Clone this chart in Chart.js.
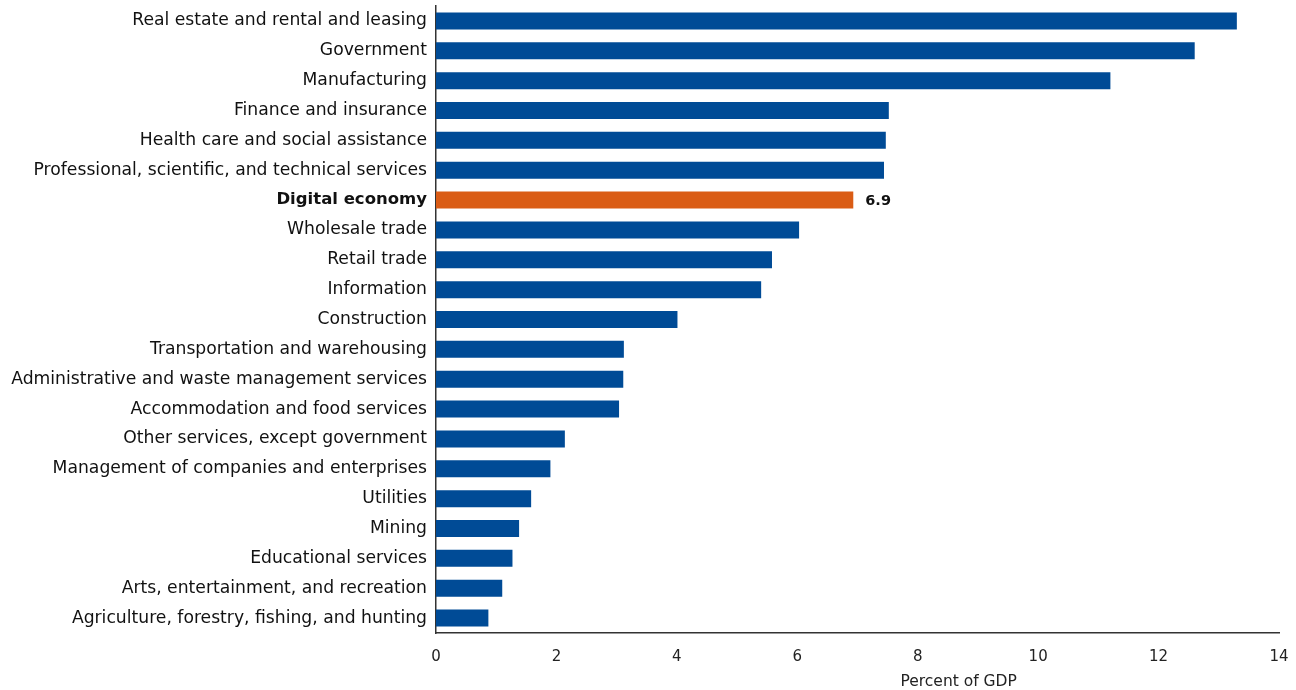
<!DOCTYPE html>
<html>
<head>
<meta charset="utf-8">
<script src="https://cdn.jsdelivr.net/npm/chart.js@4.4.1/dist/chart.umd.min.js"></script>
<style>
  html, body { margin: 0; padding: 0; background: #fff; }
  #wrap { width: 1296px; height: 690px; position: relative; }
</style>
</head>
<body>
<div id="wrap"><canvas id="c"></canvas></div>
<script>
const categories = [
  "Real estate and rental and leasing",
  "Government",
  "Manufacturing",
  "Finance and insurance",
  "Health care and social assistance",
  "Professional, scientific, and technical services",
  "Digital economy",
  "Wholesale trade",
  "Retail trade",
  "Information",
  "Construction",
  "Transportation and warehousing",
  "Administrative and waste management services",
  "Accommodation and food services",
  "Other services, except government",
  "Management of companies and enterprises",
  "Utilities",
  "Mining",
  "Educational services",
  "Arts, entertainment, and recreation",
  "Agriculture, forestry, fishing, and hunting"
];
const percentOfGDP = [13.3, 12.6, 11.2, 7.52, 7.47, 7.44, 6.93, 6.03, 5.58, 5.40, 4.01, 3.12, 3.11, 3.04, 2.14, 1.90, 1.58, 1.38, 1.27, 1.10, 0.87];
const highlightCategory = "Digital economy";
const highlightLabel = "6.9";
const xTicks = [0, 2, 4, 6, 8, 10, 12, 14];
const axisTitle = "Percent of GDP";

const BLUE = "#004B96";
const ORANGE = "#DA5C15";
const FONT = "'DejaVu Sans', 'Open Sans', sans-serif";

const hiIndex = categories.indexOf(highlightCategory);

const labelPlugin = {
  id: 'extras',
  afterDatasetsDraw(chart) {
    const ctx = chart.ctx;
    const meta = chart.getDatasetMeta(0);
    const bar = meta.data[hiIndex];
    ctx.save();
    ctx.font = "bold 14.5px " + FONT;
    ctx.fillStyle = "#111";
    ctx.textAlign = "left";
    ctx.textBaseline = "middle";
    ctx.fillText(highlightLabel, bar.x + 12, bar.y + 1);
    const xs = chart.scales.x;
    ctx.font = "15.5px " + FONT;
    ctx.fillStyle = "#222";
    ctx.textAlign = "center";
    ctx.textBaseline = "middle";
    ctx.fillText(axisTitle, xs.left + (xs.right - xs.left) * 0.62, 682);
    ctx.restore();
  }
};

new Chart(document.getElementById('c'), {
  type: 'bar',
  data: {
    labels: categories,
    datasets: [{
      data: percentOfGDP,
      backgroundColor: categories.map((c, i) => i === hiIndex ? ORANGE : BLUE),
      barPercentage: 0.57,
      categoryPercentage: 1.0
    }]
  },
  options: {
    indexAxis: 'y',
    responsive: true,
    maintainAspectRatio: false,
    animation: false,
    layout: { padding: { top: 6, right: 17, bottom: 0, left: 0 } },
    plugins: { legend: { display: false }, tooltip: { enabled: false } },
    scales: {
      x: {
        min: 0, max: 14,
        afterBuildTicks: (s) => { s.ticks = xTicks.map(v => ({ value: v })); },
        afterFit: (s) => { s.height = 57; s.paddingLeft = 0; s.paddingRight = 0; },
        grid: { display: false, drawOnChartArea: false, drawTicks: true, tickLength: 9, tickColor: '#333', tickWidth: 1.5 },
        border: { display: true, color: '#333', width: 1.5 },
        ticks: { color: '#222', font: { family: FONT, size: 15 }, padding: 6, maxRotation: 0 }
      },
      y: {
        afterFit: (s) => { s.width = 436; s.paddingTop = 0; s.paddingBottom = 0; },
        grid: { display: false, drawTicks: false },
        border: { display: true, color: '#333', width: 1.5 },
        ticks: {
          color: '#111',
          padding: 9,
          font: (ctx) => ctx.index === hiIndex
            ? { family: FONT, size: 16.5, weight: 'bold' }
            : { family: FONT, size: 17.2 }
        }
      }
    }
  },
  plugins: [labelPlugin]
});
</script>
</body>
</html>
